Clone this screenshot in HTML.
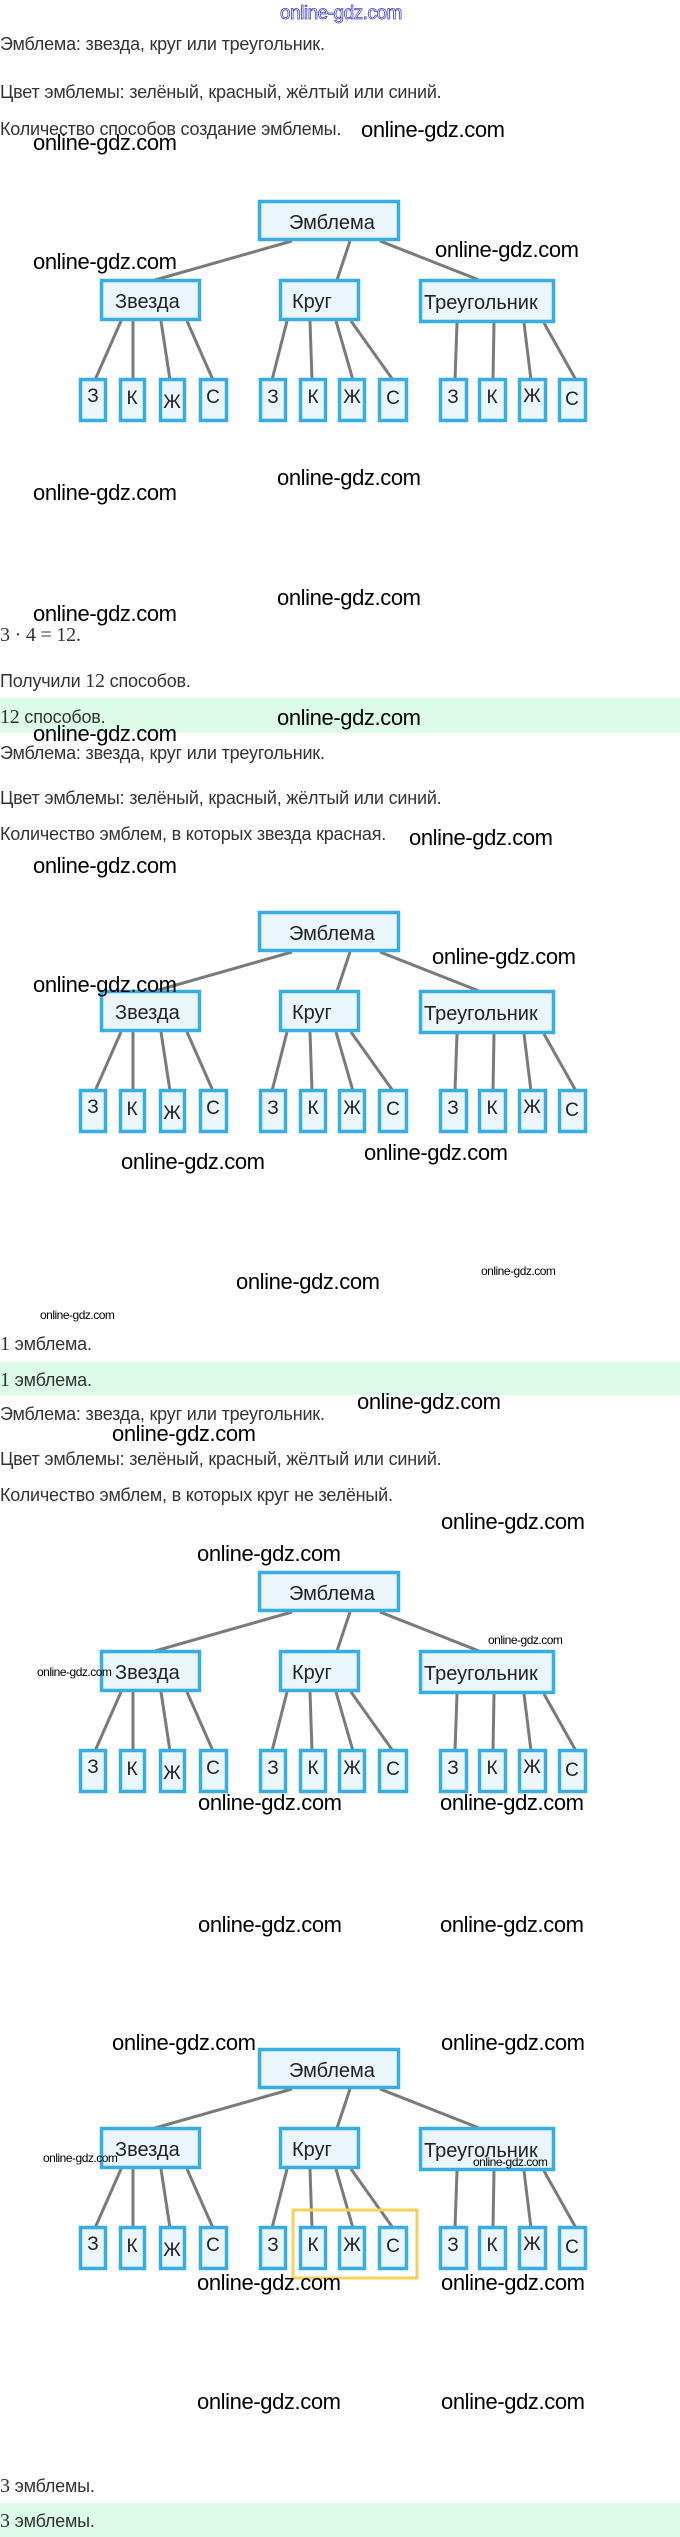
<!DOCTYPE html>
<html style="overflow:hidden;height:2537px"><head><meta charset="utf-8">
<style>
body{margin:0;width:680px;height:2537px;position:relative;background:#fff;overflow:hidden;font-family:"Liberation Sans","DejaVu Sans",sans-serif;}
.t{position:absolute;left:0;font-size:18px;color:#333;white-space:nowrap;transform:translateY(-50%);line-height:22px;letter-spacing:-0.2px}
.m{font-family:"Liberation Serif",serif;font-size:20px}
.band{position:absolute;left:0;width:680px;background:#dcfbe9}
.w{position:absolute;font-size:22px;color:#000;white-space:nowrap;transform:translateY(-50%);letter-spacing:-0.4px;line-height:24px}
.s{position:absolute;font-size:12px;color:#000;white-space:nowrap;transform:translateY(-50%);letter-spacing:-0.5px}
svg{position:absolute;left:0}
</style></head><body>
<div style="position:absolute;left:280px;top:3px;font-size:19px;color:#fff;-webkit-text-stroke:0.8px #4444cc;letter-spacing:-0.5px">online-gdz.com</div>

<div class="t" style="top:44px">Эмблема: звезда, круг или треугольник.</div>
<div class="t" style="top:92px">Цвет эмблемы: зелёный, красный, жёлтый или синий.</div>
<div class="t" style="top:129px">Количество способов создание эмблемы.</div>

<div class="t m" style="top:635px">3 · 4 = 12.</div>
<div class="t" style="top:681px">Получили <span class="m">12</span> способов.</div>
<div class="band" style="top:698px;height:35px"></div>
<div class="t" style="top:717px"><span class="m">12</span> способов.</div>

<div class="t" style="top:753px">Эмблема: звезда, круг или треугольник.</div>
<div class="t" style="top:798px">Цвет эмблемы: зелёный, красный, жёлтый или синий.</div>
<div class="t" style="top:834px">Количество эмблем, в которых звезда красная.</div>

<div class="t" style="top:1344px"><span class="m">1</span> эмблема.</div>
<div class="band" style="top:1362px;height:33px"></div>
<div class="t" style="top:1380px"><span class="m">1</span> эмблема.</div>

<div class="t" style="top:1414px">Эмблема: звезда, круг или треугольник.</div>
<div class="t" style="top:1459px">Цвет эмблемы: зелёный, красный, жёлтый или синий.</div>
<div class="t" style="top:1495px">Количество эмблем, в которых круг не зелёный.</div>

<div class="t" style="top:2486px"><span class="m">3</span> эмблемы.</div>
<div class="band" style="top:2503px;height:34px"></div>
<div class="t" style="top:2521px"><span class="m">3</span> эмблемы.</div>

<svg width="0" height="0" style="position:absolute;top:0">
<defs>
<g id="tree">
<g stroke="#7a7a7a" stroke-width="3" fill="none">
<line x1="292" y1="241" x2="155" y2="280"/>
<line x1="350" y1="241" x2="337" y2="280"/>
<line x1="380" y1="241" x2="479" y2="280"/>
<line x1="121" y1="321" x2="95" y2="380"/>
<line x1="133" y1="321" x2="133" y2="380"/>
<line x1="161" y1="321" x2="170" y2="380"/>
<line x1="187" y1="321" x2="213" y2="380"/>
<line x1="287" y1="321" x2="272" y2="380"/>
<line x1="310" y1="321" x2="312" y2="380"/>
<line x1="336" y1="321" x2="353" y2="380"/>
<line x1="351" y1="321" x2="393" y2="380"/>
<line x1="457" y1="323" x2="455" y2="380"/>
<line x1="494" y1="323" x2="493" y2="380"/>
<line x1="524" y1="323" x2="531" y2="380"/>
<line x1="544" y1="323" x2="576" y2="380"/>
</g>
<g stroke="#36aee4" stroke-width="3.5" fill="#eaf5fc">
<rect x="259.5" y="201.5" width="139" height="38"/>
<rect x="101.5" y="280.5" width="98" height="39"/>
<rect x="280.5" y="280.5" width="78" height="39"/>
<rect x="420.5" y="280.5" width="133" height="41"/>
<rect x="80.5" y="379.5" width="25" height="41"/>
<rect x="120.5" y="379.5" width="24" height="41"/>
<rect x="160.5" y="379.5" width="24" height="41"/>
<rect x="200.5" y="379.5" width="26" height="41"/>
<rect x="260.5" y="379.5" width="25" height="41"/>
<rect x="300.5" y="379.5" width="25" height="41"/>
<rect x="339.5" y="379.5" width="25" height="41"/>
<rect x="379.5" y="379.5" width="27" height="41"/>
<rect x="440.5" y="379.5" width="26" height="41"/>
<rect x="479.5" y="379.5" width="26" height="41"/>
<rect x="519.5" y="379.5" width="26" height="41"/>
<rect x="559.5" y="379.5" width="26" height="41"/>
</g>
<g font-family="Liberation Sans, sans-serif" font-size="20" fill="#222">
<text x="289" y="229">Эмблема</text>
<text x="115" y="308">Звезда</text>
<text x="292" y="308">Круг</text>
<text x="424" y="309">Треугольник</text>
<g text-anchor="middle" font-size="19">
<text x="93" y="402">З</text><text x="132" y="404">К</text><text x="172" y="408">Ж</text><text x="213" y="403">С</text>
<text x="273" y="403">З</text><text x="313" y="403">К</text><text x="352" y="403">Ж</text><text x="393" y="404">С</text>
<text x="453" y="403">З</text><text x="492" y="403">К</text><text x="532" y="402">Ж</text><text x="572" y="405">С</text>
</g>
</g>
</g>
</defs>
</svg>

<svg width="680" height="440" style="top:0"><use href="#tree"/></svg>
<svg width="680" height="440" style="top:711px"><use href="#tree"/></svg>
<svg width="680" height="440" style="top:1371px"><use href="#tree"/></svg>
<svg width="680" height="440" style="top:1848px"><use href="#tree"/><rect x="293" y="362" width="124" height="68" fill="none" stroke="#f5d35a" stroke-width="3"/></svg>

<div class="w" style="left:361px;top:130px">online-gdz.com</div>
<div class="w" style="left:33px;top:143px">online-gdz.com</div>
<div class="w" style="left:435px;top:250px">online-gdz.com</div>
<div class="w" style="left:33px;top:262px">online-gdz.com</div>
<div class="w" style="left:277px;top:478px">online-gdz.com</div>
<div class="w" style="left:33px;top:493px">online-gdz.com</div>
<div class="w" style="left:277px;top:598px">online-gdz.com</div>
<div class="w" style="left:33px;top:614px">online-gdz.com</div>
<div class="w" style="left:277px;top:718px">online-gdz.com</div>
<div class="w" style="left:33px;top:734px">online-gdz.com</div>
<div class="w" style="left:409px;top:838px">online-gdz.com</div>
<div class="w" style="left:33px;top:866px">online-gdz.com</div>
<div class="w" style="left:432px;top:957px">online-gdz.com</div>
<div class="w" style="left:33px;top:985px">online-gdz.com</div>
<div class="w" style="left:121px;top:1162px">online-gdz.com</div>
<div class="w" style="left:364px;top:1153px">online-gdz.com</div>
<div class="w" style="left:236px;top:1282px">online-gdz.com</div>
<div class="w" style="left:357px;top:1402px">online-gdz.com</div>
<div class="w" style="left:112px;top:1434px">online-gdz.com</div>
<div class="w" style="left:441px;top:1522px">online-gdz.com</div>
<div class="w" style="left:197px;top:1554px">online-gdz.com</div>
<div class="w" style="left:198px;top:1803px">online-gdz.com</div>
<div class="w" style="left:440px;top:1803px">online-gdz.com</div>
<div class="w" style="left:198px;top:1925px">online-gdz.com</div>
<div class="w" style="left:440px;top:1925px">online-gdz.com</div>
<div class="w" style="left:112px;top:2043px">online-gdz.com</div>
<div class="w" style="left:441px;top:2043px">online-gdz.com</div>
<div class="w" style="left:197px;top:2283px">online-gdz.com</div>
<div class="w" style="left:441px;top:2283px">online-gdz.com</div>
<div class="w" style="left:197px;top:2402px">online-gdz.com</div>
<div class="w" style="left:441px;top:2402px">online-gdz.com</div>

<div class="s" style="left:481px;top:1271px">online-gdz.com</div>
<div class="s" style="left:40px;top:1315px">online-gdz.com</div>
<div class="s" style="left:37px;top:1672px">online-gdz.com</div>
<div class="s" style="left:488px;top:1640px">online-gdz.com</div>
<div class="s" style="left:43px;top:2158px">online-gdz.com</div>
<div class="s" style="left:473px;top:2162px">online-gdz.com</div>
</body></html>
